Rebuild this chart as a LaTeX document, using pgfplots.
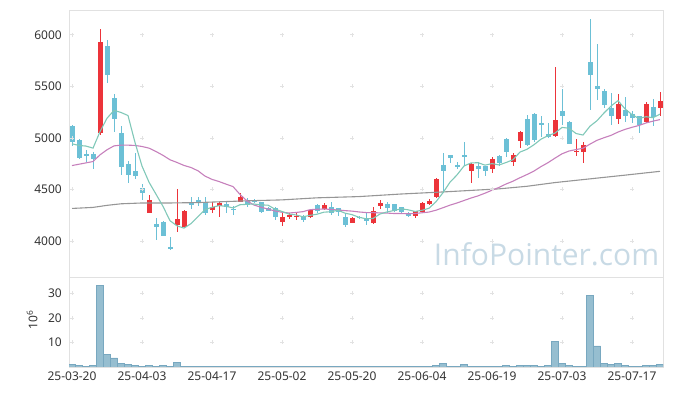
\documentclass[border=0pt]{standalone}
\usepackage{pgfplots}
\pgfplotsset{compat=1.18}
\usepackage{pgfplotstable}
\usepackage{fontspec}
\setmainfont{Noto Sans}
\newfontfamily\wmfont{Open Sans}
\definecolor{upc}{RGB}{236,52,58}
\definecolor{dnc}{RGB}{108,192,214}
\definecolor{ma5}{RGB}{128,200,184}
\definecolor{ma20}{RGB}{198,128,188}
\definecolor{malong}{RGB}{150,150,150}
\definecolor{volfill}{RGB}{150,190,208}
\definecolor{voldraw}{RGB}{120,168,192}
\definecolor{framec}{RGB}{225,225,225}
\definecolor{gridc}{RGB}{226,226,226}
\definecolor{wm}{RGB}{200,218,229}
\definecolor{lbl}{RGB}{51,51,51}

\pgfplotstableread{
x o h l c
4 5050 6055 5030 5930
11 4275 4447 4275 4400
15 4155 4500 4085 4215
16 4135 4300 4130 4290
20 4300 4382 4275 4327
21 4340 4380 4230 4370
24 4382 4463 4380 4427
30 4188 4269 4146 4236
31 4236 4275 4214 4253
32 4228 4282 4204 4246
34 4230 4307 4220 4300
36 4311 4366 4301 4350
40 4178 4230 4172 4220
43 4178 4327 4165 4292
44 4340 4398 4307 4372
49 4243 4295 4227 4292
50 4285 4375 4278 4372
51 4360 4408 4350 4392
52 4425 4609 4414 4600
57 4683 4755 4560 4748
60 4700 4812 4657 4796
63 4770 4851 4728 4835
64 4965 5071 4900 5052
69 5020 5686 5007 5175
72 4860 4987 4819 4877
73 4867 4964 4760 4932
78 5181 5424 5133 5330
82 5149 5343 5142 5330
84 5294 5447 5207 5362
}\upcandles

\pgfplotstableread{
x o h l c
0 5116 5125 4916 4961
1 4980 4990 4795 4800
2 4840 4885 4770 4820
3 4840 4860 4700 4790
5 5890 5950 5530 5610
6 5385 5430 5060 5180
7 5045 5110 4640 4720
8 4750 4780 4560 4640
9 4680 4850 4600 4625
10 4510 4550 4400 4465
12 4165 4220 4010 4135
13 4185 4195 4045 4050
14 3935 4040 3910 3930
17 4365 4430 4310 4355
18 4392 4430 4340 4388
19 4375 4430 4252 4270
22 4362 4375 4275 4327
23 4310 4340 4252 4305
25 4390 4417 4327 4345
26 4390 4410 4365 4385
27 4375 4382 4275 4285
28 4318 4330 4290 4295
29 4318 4333 4204 4230
33 4243 4253 4188 4205
35 4350 4356 4275 4292
37 4327 4375 4253 4270
38 4318 4320 4246 4280
39 4230 4270 4133 4155
41 4236 4245 4214 4222
42 4207 4275 4155 4200
45 4360 4375 4275 4318
46 4356 4360 4278 4292
47 4325 4333 4269 4285
48 4270 4282 4230 4243
53 4738 4851 4463 4683
54 4835 4838 4754 4803
55 4741 4764 4699 4722
56 4830 4955 4722 4825
58 4722 4770 4609 4696
59 4722 4728 4625 4683
61 4825 4835 4728 4760
62 4990 4997 4812 4867
65 5181 5223 4916 4932
66 5233 5240 4955 4980
67 5138 5214 5007 5134
68 5040 5143 4997 5007
70 5262 5473 5126 5207
71 5155 5165 4940 4942
74 5731 6152 5272 5605
75 5505 5909 5369 5476
76 5450 5472 5294 5314
77 5294 5434 5126 5214
79 5272 5395 5149 5207
80 5233 5265 5142 5197
81 5207 5214 5045 5126
83 5298 5376 5110 5201
}\dncandles

\pgfplotstableread{
x v
0 4942
1 4926
2 4920
3 4900
4 5060
5 5190
6 5266
7 5246
8 5216
9 4955
10 4726
11 4570
12 4453
13 4335
14 4196
15 4146
16 4124
17 4168
18 4236
19 4304
20 4326
21 4342
22 4336
23 4320
24 4351
25 4355
26 4358
27 4349
28 4347
29 4308
30 4286
31 4260
32 4252
33 4234
34 4248
35 4259
36 4279
37 4283
38 4298
39 4269
40 4255
41 4229
42 4215
43 4218
44 4261
45 4281
46 4295
47 4312
48 4302
49 4286
50 4297
51 4317
52 4380
53 4468
54 4570
55 4640
56 4727
57 4756
58 4759
59 4735
60 4750
61 4737
62 4760
63 4788
64 4862
65 4889
66 4933
67 4987
68 5021
69 5046
70 5101
71 5093
72 5042
73 5027
74 5113
75 5166
76 5241
77 5308
78 5361
79 5281
80 5225
81 5187
82 5205
83 5195
84 5230
}\maA

\pgfplotstableread{
x v
0 4731
3 4770
4 4835
5 4884
6 4922
7 4929
8 4929
9 4926
10 4916
11 4900
12 4867
13 4830
14 4787
15 4761
16 4732
17 4712
18 4680
19 4629
20 4597
21 4576
22 4551
23 4527
24 4451
25 4388
26 4348
27 4327
28 4309
29 4290
30 4278
31 4271
32 4276
33 4284
34 4303
35 4307
36 4310
37 4305
38 4300
39 4294
40 4289
41 4281
42 4275
43 4274
44 4272
45 4270
46 4266
47 4266
48 4263
49 4266
50 4273
51 4280
52 4298
53 4322
54 4347
55 4368
56 4392
57 4416
58 4437
59 4463
60 4492
61 4519
62 4552
63 4579
64 4613
65 4644
66 4678
67 4721
68 4759
69 4803
70 4845
71 4872
72 4886
73 4899
74 4939
75 4976
76 5001
77 5024
78 5056
79 5082
80 5102
81 5120
82 5144
83 5162
84 5177
}\maB

\pgfplotstableread{
x v
0 4315
3 4325
5 4345
7 4360
10 4368
14 4368
18 4372
25 4389
30 4398
35 4418
41 4430
47 4455
53 4475
57 4490
61 4505
65 4530
69 4566
74 4602
79 4638
84 4675
}\maC

\pgfplotstableread{
x v
0 1.2
1 0.8
2 0.4
3 0.8
4 33.3
5 5.3
6 3.7
7 1.6
8 1.2
9 0.8
10 0.4
11 0.8
12 0.4
13 0.8
14 0.4
15 2.0
16 0.4
17 0.4
18 0.4
19 0.2
20 0.15
21 0.2
22 0.1
23 0.1
24 0.4
25 0.15
26 0.1
27 0.15
28 0.1
29 0.15
30 0.1
31 0.1
32 0.1
33 0.1
34 0.15
35 0.1
36 0.1
37 0.1
38 0.1
39 0.15
40 0.1
41 0.1
42 0.1
43 0.15
44 0.1
45 0.1
46 0.1
47 0.1
48 0.1
49 0.1
50 0.15
51 0.15
52 0.7
53 1.6
54 0.4
55 0.4
56 1.2
57 0.4
58 0.4
59 0.2
60 0.4
61 0.2
62 0.8
63 0.4
64 0.8
65 0.8
66 0.8
67 0.4
68 0.8
69 10.3
70 1.6
71 0.8
72 0.4
73 0.4
74 29.2
75 8.6
76 1.6
77 1.2
78 1.6
79 0.8
80 0.4
81 0.4
82 0.8
83 0.8
84 1.2
}\vol

\begin{document}
\begin{tikzpicture}
\useasboundingbox (0,0) rectangle (673bp,396bp);
\pgfplotsset{
  basestyle/.style={
    scale only axis, width=594bp, xmin=-0.43, xmax=84.43,
    axis line style={framec, line width=0.8bp},
    major tick length=0pt,
    tick label style={font=\fontsize{12bp}{14bp}\selectfont, text=lbl},
    /pgf/number format/assume math mode=true,
    /pgf/number format/1000 sep={},
    xtick={0,10,...,80},
    yticklabel style={inner sep=0pt, xshift=-7bp},
  }
}
\begin{axis}[basestyle, at={(69bp,119bp)}, anchor=south west, height=267bp,
  ymin=3650, ymax=6240, ytick={4000,4500,...,6000}, xticklabels={}]
\pgfplotsinvokeforeach{4000,4500,5000,5500,6000}{
  \addplot[only marks, mark=+, mark size=2bp, gridc, mark options={line width=0.6bp}]
    coordinates {(0,#1)(10,#1)(20,#1)(30,#1)(40,#1)(50,#1)(60,#1)(70,#1)(80,#1)};
}
\node[text=wm, font=\wmfont\fontsize{30bp}{36bp}\selectfont] at (axis cs:67.8,3866) {InfoPointer.com};
\addplot[draw=none, mark=none, error bars/.cd, y dir=both, y explicit, error mark=none,
  error bar style={line width=1bp, draw=upc}]
  table[x=x, y expr={(\thisrow{h}+\thisrow{l})/2}, y error expr={(\thisrow{h}-\thisrow{l})/2}] \upcandles;
\addplot[draw=none, mark=none, error bars/.cd, y dir=both, y explicit, error mark=none,
  error bar style={line width=5bp, draw=upc}]
  table[x=x, y expr={(\thisrow{o}+\thisrow{c})/2}, y error expr={max(abs(\thisrow{c}-\thisrow{o})/2,5)}] \upcandles;
\addplot[draw=none, mark=none, error bars/.cd, y dir=both, y explicit, error mark=none,
  error bar style={line width=1bp, draw=dnc}]
  table[x=x, y expr={(\thisrow{h}+\thisrow{l})/2}, y error expr={(\thisrow{h}-\thisrow{l})/2}] \dncandles;
\addplot[draw=none, mark=none, error bars/.cd, y dir=both, y explicit, error mark=none,
  error bar style={line width=5bp, draw=dnc}]
  table[x=x, y expr={(\thisrow{o}+\thisrow{c})/2}, y error expr={max(abs(\thisrow{c}-\thisrow{o})/2,5)}] \dncandles;
\addplot[malong, line width=1.1bp, mark=none] table[x=x, y=v] \maC;
\addplot[ma20, line width=1.1bp, mark=none] table[x=x, y=v] \maB;
\addplot[ma5, line width=1.1bp, mark=none] table[x=x, y=v] \maA;
\end{axis}
\begin{axis}[basestyle, at={(69bp,29bp)}, anchor=south west, height=90bp,
  ymin=0, ymax=36.7, ytick={10,20,30},
  xticklabels={25-03-20,25-04-03,25-04-17,25-05-02,25-05-20,25-06-04,25-06-19,25-07-03,25-07-17},
  xticklabel style={inner sep=0pt, yshift=-5bp},
  ylabel={10\textsuperscript{6}},
  ylabel style={at={(axis description cs:-0.062,0.52)}, anchor=center, font=\fontsize{12bp}{14bp}\selectfont, text=lbl}]
\pgfplotsinvokeforeach{10,20,30}{
  \addplot[only marks, mark=+, mark size=2bp, gridc, mark options={line width=0.6bp}]
    coordinates {(0,#1)(10,#1)(20,#1)(30,#1)(40,#1)(50,#1)(60,#1)(70,#1)(80,#1)};
}
\addplot[ybar, bar width=7bp, fill=volfill, draw=voldraw, line width=0.6bp] table[x=x, y=v] \vol;
\end{axis}
\end{tikzpicture}
\end{document}
